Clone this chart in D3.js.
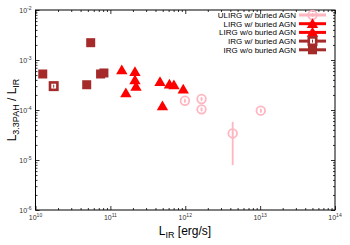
<!DOCTYPE html>
<html>
<head>
<meta charset="utf-8">
<script src="https://cdn.jsdelivr.net/npm/d3@7"></script>
<style>
body { margin: 0; background: #fff; }
text { font-family: "Liberation Sans", Arial, sans-serif; }
</style>
</head>
<body>
<div id="chart"></div>
<script>
// data (L_IR in erg/s, ratio L3.3PAH/L_IR)
var ulirgAgnLir   = [9.9e11, 1.65e12, 1.65e12, 4.3e12, 1.02e13];
var ulirgAgnRatio = [1.53e-4, 1.66e-4, 1.03e-4, 3.4e-5, 9.7e-5];
var ulirgAgnLo    = [1.45e-4, 1.58e-4, 0.97e-4, 7.9e-6, 9.2e-5];
var ulirgAgnHi    = [1.61e-4, 1.74e-4, 1.09e-4, 5.8e-5, 1.02e-4];

var lirgAgnLir   = [2.13e11, 6.15e11, 9.4e11];
var lirgAgnRatio = [5.83e-4, 3.27e-4, 2.6e-4];

var lirgNoAgnLir   = [1.42e11, 2.13e11, 2.2e11, 1.61e11, 4.6e11, 7.06e11, 4.96e11];
var lirgNoAgnRatio = [6.3e-4, 3.98e-4, 2.95e-4, 2.19e-4, 3.68e-4, 3.16e-4, 1.2e-4];

var irgAgnLir   = [1.75e10];
var irgAgnRatio = [3.0e-4];

var irgNoAgnLir   = [1.25e10, 5.46e10, 4.83e10, 7.4e10, 8.2e10];
var irgNoAgnRatio = [5.25e-4, 2.22e-3, 3.2e-4, 5.25e-4, 5.5e-4];

var xTickExp = [10, 11, 12, 13, 14];
var yTickExp = [-6, -5, -4, -3, -2];

var legendLabels = ["ULIRG w/ buried AGN", "LIRG w/ buried AGN", "LIRG w/o buried AGN",
                    "IRG w/ buried AGN", "IRG w/o buried AGN"];

var pink = "#ffb6c1", red = "#ff0000", brown = "#a52a2a";

var svgWidth = 350, svgHeight = 245;
var plot = { left: 35.5, right: 335, top: 10, bottom: 210 };

var svg = d3.select("#chart").append("svg")
    .attr("width", svgWidth)
    .attr("height", svgHeight);

var x = d3.scaleLog().domain([1e10, 1e14]).range([plot.left, plot.right]);
var y = d3.scaleLog().domain([1e-6, 1e-2]).range([plot.bottom, plot.top]);

// minor ticks 2..9 per decade
function minors(lo, hi) {
    var out = [];
    for (var e = lo; e < hi; e++) {
        for (var m = 2; m <= 9; m++) out.push(m * Math.pow(10, e));
    }
    return out;
}
var xMajor = xTickExp.map(e => Math.pow(10, e));
var yMajor = yTickExp.map(e => Math.pow(10, e));

function addAxis(axis, tx, ty) {
    var g = svg.append("g")
        .attr("transform", `translate(${tx}, ${ty})`)
        .call(axis);
    g.select(".domain").remove();
    g.selectAll("line").attr("stroke", "#000").attr("stroke-width", 0.8);
    g.selectAll("text").remove();
}

addAxis(d3.axisBottom(x).tickValues(xMajor).tickSize(-4), 0, plot.bottom);
addAxis(d3.axisBottom(x).tickValues(minors(10, 14)).tickSize(-2), 0, plot.bottom);
addAxis(d3.axisTop(x).tickValues(xMajor).tickSize(-4), 0, plot.top);
addAxis(d3.axisTop(x).tickValues(minors(10, 14)).tickSize(-2), 0, plot.top);
addAxis(d3.axisLeft(y).tickValues(yMajor).tickSize(-4), plot.left, 0);
addAxis(d3.axisLeft(y).tickValues(minors(-6, -2)).tickSize(-2), plot.left, 0);
addAxis(d3.axisRight(y).tickValues(yMajor).tickSize(-4), plot.right, 0);
addAxis(d3.axisRight(y).tickValues(minors(-6, -2)).tickSize(-2), plot.right, 0);

// frame
svg.append("rect")
    .attr("x", plot.left).attr("y", plot.top)
    .attr("width", plot.right - plot.left)
    .attr("height", plot.bottom - plot.top)
    .attr("fill", "none")
    .attr("stroke", "#000")
    .attr("stroke-width", 1);

// tick labels 10^n
xTickExp.forEach(function (e) {
    var t = svg.append("text")
        .attr("x", x(Math.pow(10, e)))
        .attr("y", plot.bottom + 10)
        .attr("text-anchor", "middle")
        .attr("font-size", 7)
        .attr("fill", "#333");
    t.append("tspan").text("10");
    t.append("tspan").attr("dy", -3).attr("font-size", 5).text(e);
});
yTickExp.forEach(function (e) {
    var t = svg.append("text")
        .attr("x", plot.left - 4)
        .attr("y", y(Math.pow(10, e)) + 3)
        .attr("text-anchor", "end")
        .attr("font-size", 7)
        .attr("fill", "#333");
    t.append("tspan").text("10");
    t.append("tspan").attr("dy", -3).attr("font-size", 5).text(e);
});

// axis titles
var xt = svg.append("text")
    .attr("x", 185).attr("y", 235)
    .attr("text-anchor", "middle")
    .attr("font-size", 12);
xt.append("tspan").text("L");
xt.append("tspan").attr("dy", 3).attr("font-size", 9).text("IR");
xt.append("tspan").attr("dy", -3).text(" [erg/s]");

var yt = svg.append("text")
    .attr("transform", `translate(16, ${(plot.top + plot.bottom) / 2}) rotate(-90)`)
    .attr("text-anchor", "middle")
    .attr("font-size", 12);
yt.append("tspan").text("L");
yt.append("tspan").attr("dy", 3).attr("font-size", 9).text("3.3PAH");
yt.append("tspan").attr("dy", -3).text(" / L");
yt.append("tspan").attr("dy", 3).attr("font-size", 9).text("IR");

// marker helpers
var tri = d3.symbol().type(d3.symbolTriangle).size(56);

function drawCircle(g, cx, cy) {
    g.append("circle").attr("cx", cx).attr("cy", cy).attr("r", 4.3)
        .attr("fill", "none").attr("stroke", pink).attr("stroke-width", 1.8);
    g.append("line").attr("x1", cx).attr("x2", cx).attr("y1", cy - 2).attr("y2", cy + 2)
        .attr("stroke", pink).attr("stroke-width", 1.5);
}
function drawTri(g, cx, cy) {
    g.append("path").attr("d", tri)
        .attr("transform", `translate(${cx}, ${cy + 1})`)
        .attr("fill", red);
}
function drawSquare(g, cx, cy) {
    g.append("rect").attr("x", cx - 4.5).attr("y", cy - 4.5)
        .attr("width", 9).attr("height", 9).attr("fill", brown);
}
function drawOpenSquare(g, cx, cy) {
    g.append("rect").attr("x", cx - 3.7).attr("y", cy - 3.7)
        .attr("width", 7.4).attr("height", 7.4)
        .attr("fill", "#fff").attr("stroke", brown).attr("stroke-width", 2.6);
    g.append("line").attr("x1", cx).attr("x2", cx).attr("y1", cy - 1.5).attr("y2", cy + 1.5)
        .attr("stroke", brown).attr("stroke-width", 1);
}

var pts = svg.append("g");

// ULIRG error bars then circles
ulirgAgnLir.forEach(function (d, i) {
    pts.append("line")
        .attr("x1", x(d)).attr("x2", x(d))
        .attr("y1", y(ulirgAgnLo[i])).attr("y2", y(ulirgAgnHi[i]))
        .attr("stroke", pink).attr("stroke-width", 1.8);
    drawCircle(pts, x(d), y(ulirgAgnRatio[i]));
});
irgNoAgnLir.forEach((d, i) => drawSquare(pts, x(d), y(irgNoAgnRatio[i])));
irgAgnLir.forEach((d, i) => drawOpenSquare(pts, x(d), y(irgAgnRatio[i])));
lirgNoAgnLir.forEach((d, i) => drawTri(pts, x(d), y(lirgNoAgnRatio[i])));
lirgAgnLir.forEach((d, i) => drawTri(pts, x(d), y(lirgAgnRatio[i])));

// legend
var legendColors = [pink, red, red, brown, brown];
var legendDraw = [drawCircle, drawTri, drawTri, drawOpenSquare, drawSquare];
var leg = svg.append("g");
legendLabels.forEach(function (lab, i) {
    var ly = 15 + i * 8.7;
    leg.append("text")
        .attr("x", 296).attr("y", ly + 2.8)
        .attr("text-anchor", "end")
        .attr("font-size", 8)
        .text(lab);
    leg.append("line")
        .attr("x1", 299).attr("x2", 326)
        .attr("y1", ly).attr("y2", ly)
        .attr("stroke", legendColors[i]).attr("stroke-width", 3);
    legendDraw[i](leg, 312.5, ly);
});
</script>
</body>
</html>
